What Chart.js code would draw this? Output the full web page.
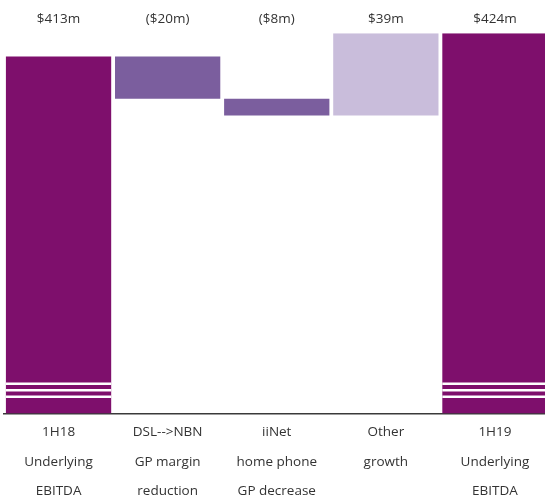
<!DOCTYPE html>
<html>
<head>
<meta charset="utf-8">
<script src="https://cdn.jsdelivr.net/npm/chart.js@4/dist/chart.umd.min.js"></script>
<style>
  html, body { margin: 0; padding: 0; background: #fff; }
  #wrap { width: 545px; height: 501px; overflow: hidden; position: relative; }
  canvas { display: block; }
</style>
</head>
<body>
<div id="wrap"><canvas id="c" width="552" height="510"></canvas></div>
<script>
// waterfall: 1H18 -> 1H19 underlying EBITDA
const categories = [
    ['1H18', 'Underlying', 'EBITDA'],
    ['DSL-->NBN', 'GP margin', 'reduction'],
    ['iiNet', 'home phone', 'GP decrease'],
    ['Other', 'growth'],
    ['1H19', 'Underlying', 'EBITDA'],
];
const changes = [413, -20, -8, 39, 424];
const kinds = ['total', 'decrease', 'decrease', 'increase', 'total'];
const valueLabels = ['$413m', '($20m)', '($8m)', '$39m', '$424m'];
const axisMin = 244;
const axisMax = 424;

const colours = { total: '#7E0F6C', decrease: '#7B5E9E', increase: '#C9BDDB' };

// floating bar ranges from the running total
let running = 0;
const ranges = changes.map((v, i) => {
    if (kinds[i] === 'total') {
        running = v;
        return [axisMin, v];
    }
    const start = running;
    running += v;
    return [start, running];
});

// white stripes near the foot of the total bars (axis break marks)
const breakMarks = {
    id: 'breakMarks',
    afterDatasetsDraw(chart) {
        const ctx = chart.ctx;
        const meta = chart.getDatasetMeta(0);
        ctx.save();
        ctx.fillStyle = '#ffffff';
        meta.data.forEach((bar, i) => {
            if (kinds[i] !== 'total') return;
            const left = bar.x - bar.width / 2;
            [31, 24.5, 18].forEach((off) => {
                ctx.fillRect(left, bar.base - off, bar.width, 2.5);
            });
        });
        ctx.restore();
    },
};

const font = { family: '"Open Sans", sans-serif', size: 13.5 };

new Chart(document.getElementById('c'), {
    type: 'bar',
    data: {
        labels: categories,
        datasets: [{
            data: ranges,
            backgroundColor: kinds.map((k) => colours[k]),
            borderWidth: 0,
            barPercentage: 0.965,
            categoryPercentage: 1,
        }],
    },
    options: {
        responsive: false,
        animation: false,
        layout: { padding: { left: 4, right: 2.5, top: 5, bottom: 0 } },
        scales: {
            x: {
                z: 1,
                grid: { display: false, drawTicks: false },
                border: { display: true, color: '#3a3a3a', width: 1.5 },
                ticks: { color: '#333', padding: 4, font: { ...font, lineHeight: 29.5 / 13.5 } },
            },
            x2: {
                type: 'category',
                position: 'top',
                labels: valueLabels,
                grid: { display: false, drawTicks: false },
                border: { display: false },
                ticks: { color: '#333', padding: 6, font: font },
            },
            y: { display: false, min: axisMin, max: axisMax },
        },
        plugins: {
            legend: { display: false },
            tooltip: { enabled: false },
        },
    },
    plugins: [breakMarks],
});
</script>
</body>
</html>
